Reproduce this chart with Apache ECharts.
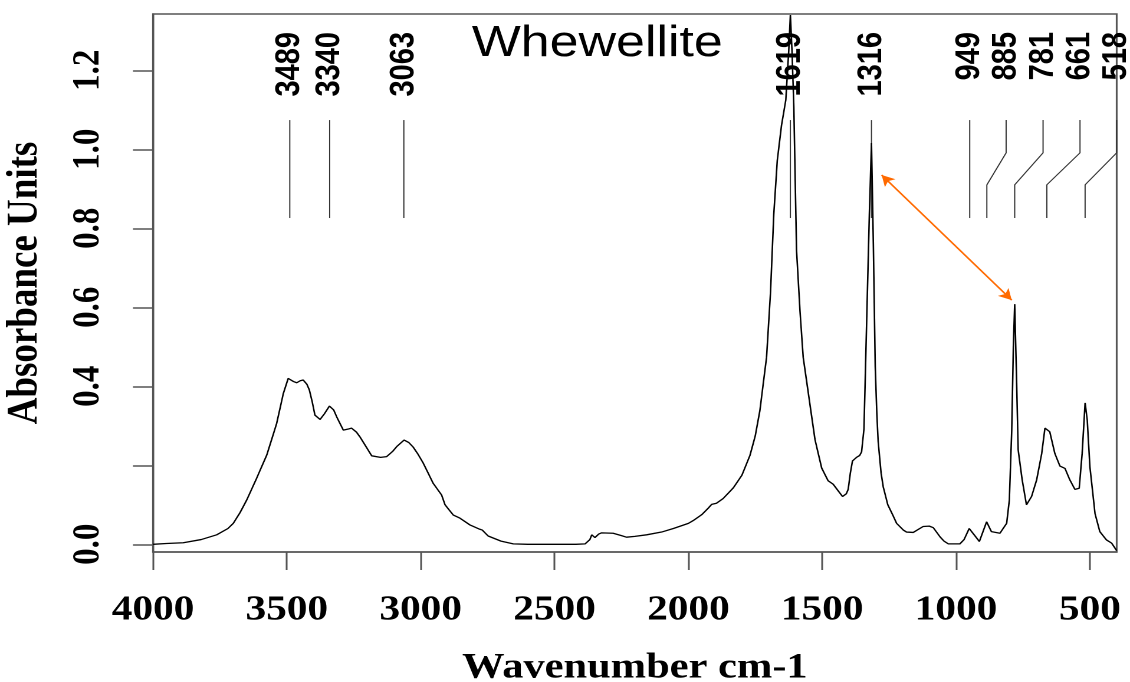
<!DOCTYPE html>
<html>
<head>
<meta charset="utf-8">
<title>Whewellite</title>
<script src="https://cdn.jsdelivr.net/npm/echarts@6/dist/echarts.min.js"></script>
<style>
  html, body { margin: 0; padding: 0; background: #fff; overflow: hidden; }
  /* the original plot is stretched sideways, so draw narrow and widen it */
  #main { width: 958px; height: 682px; transform: scaleX(1.17954); transform-origin: 0 0; }
</style>
</head>
<body>
<div id="main"></div>
<script>
// spectrum (cm-1 / absorbance)
var wavenumbers = [4000, 3950, 3887, 3820, 3762, 3720, 3700, 3675, 3650, 3613, 3575, 3538, 3513, 3495, 3489,
  3475, 3463, 3450, 3439, 3425, 3416, 3405, 3395, 3376, 3360, 3341, 3325, 3314, 3289, 3270, 3258, 3240,
  3227, 3205, 3183, 3150, 3127, 3105, 3090, 3062, 3045, 3028, 3010, 2990, 2953, 2922, 2909, 2895, 2878,
  2853, 2816, 2779, 2770, 2766, 2748, 2700, 2654, 2600, 2500, 2420, 2386, 2368, 2361, 2349, 2335, 2324,
  2281, 2250, 2231, 2200, 2156, 2100, 2056, 2000, 1982, 1950, 1925, 1913, 1895, 1870, 1832, 1800, 1770,
  1750, 1733, 1708, 1693, 1681, 1668, 1652, 1636, 1625, 1619, 1613, 1606, 1596, 1583, 1571, 1552, 1527,
  1502, 1478, 1459, 1440, 1424, 1410, 1403, 1395, 1387, 1372, 1360, 1353, 1344, 1334, 1324, 1316, 1309,
  1302, 1296, 1291, 1280, 1272, 1255, 1235, 1222, 1197, 1185, 1160, 1123, 1100, 1085, 1060, 1045, 1029,
  986, 970, 951, 930, 913, 886, 868, 836, 811, 801, 792, 786, 781, 774, 768, 753, 737, 718, 699, 680,
  668, 660, 650, 631, 612, 593, 575, 556, 540, 529, 518, 510, 500, 481, 463, 438, 419, 400];
var absorbance = [0.000, 0.002, 0.004, 0.012, 0.024, 0.040, 0.053, 0.080, 0.112, 0.167, 0.226, 0.306, 0.382, 0.420, 0.423,
  0.412, 0.409, 0.414, 0.416, 0.405, 0.391, 0.360, 0.327, 0.316, 0.330, 0.350, 0.340, 0.323, 0.289, 0.292, 0.294, 0.284,
  0.272, 0.248, 0.224, 0.220, 0.222, 0.235, 0.247, 0.264, 0.258, 0.246, 0.228, 0.205, 0.154, 0.125, 0.100, 0.088, 0.074,
  0.066, 0.049, 0.038, 0.036, 0.032, 0.021, 0.008, 0.001, 0.000, 0.000, 0.000, 0.001, 0.012, 0.024, 0.017, 0.026, 0.029,
  0.028, 0.022, 0.018, 0.020, 0.024, 0.031, 0.040, 0.053, 0.060, 0.075, 0.092, 0.101, 0.104, 0.116, 0.143, 0.175, 0.225,
  0.275, 0.338, 0.473, 0.640, 0.835, 0.971, 1.061, 1.125, 1.250, 1.340, 1.250, 1.107, 0.745, 0.590, 0.473, 0.383, 0.265,
  0.193, 0.161, 0.152, 0.135, 0.121, 0.128, 0.139, 0.180, 0.211, 0.220, 0.225, 0.234, 0.292, 0.564, 0.835, 1.016, 0.760,
  0.450, 0.330, 0.260, 0.180, 0.145, 0.100, 0.072, 0.053, 0.036, 0.031, 0.030, 0.045, 0.046, 0.042, 0.019, 0.008, 0.001,
  0.001, 0.012, 0.040, 0.022, 0.007, 0.057, 0.032, 0.028, 0.053, 0.112, 0.289, 0.500, 0.608, 0.416, 0.239, 0.163, 0.100, 0.121, 0.163, 0.230,
  0.294, 0.298, 0.285, 0.230, 0.198, 0.192, 0.163, 0.139, 0.142, 0.230, 0.358, 0.315, 0.196, 0.078, 0.032, 0.011, 0.003, -0.016];

// axis ticks and labels
var xTicks = [4000, 3500, 3000, 2500, 2000, 1500, 1000, 500];
var yTicks = [0, 0.2, 0.4, 0.6, 0.8, 1.0, 1.2];
var yLabels = [0, 0.4, 0.6, 0.8, 1.0, 1.2];

// band assignments: peak position and where its label sits
var peakNames = ['3489', '3340', '3063', '1619', '1316', '949', '885', '781', '661', '518'];
var peakWn = [3489, 3340, 3063, 1619, 1316, 949, 885, 781, 661, 518];
var peakLabelWn = [3489, 3340, 3063, 1619, 1316, 949, 813, 675, 537, 400];

// double arrow comparing the 1316 and 781 bands
var arrowFrom = [1278, 0.935];
var arrowTo = [792, 0.618];

var serif = 'Liberation Serif, Times New Roman, serif';
var sans = 'Liberation Sans, Arial, sans-serif';
var axisGray = '#555';

var spectrum = wavenumbers.map(function (w, i) { return [w, absorbance[i]]; });

// leader line levels (absorbance units)
var lineTop = 1.074, kinkTop = 0.991, kinkLow = 0.910, lineLow = 0.826;
var leaderSeries = peakWn.map(function (w, i) {
  var lw = peakLabelWn[i];
  var pts = (lw === w)
    ? [[lw, lineTop], [w, lineLow]]
    : [[lw, lineTop], [lw, kinkTop], [w, kinkLow], [w, lineLow]];
  return {
    type: 'line', data: pts, showSymbol: false, silent: true, clip: false,
    lineStyle: { color: '#333', width: 1 }, z: 3
  };
});

var labelSeries = {
  type: 'scatter', silent: true, symbolSize: 1,
  itemStyle: { color: 'transparent', opacity: 1 },
  data: peakNames.map(function (n, i) { return { value: [peakLabelWn[i], 1.297], name: n }; }),
  label: {
    show: true, position: 'inside', rotate: 90, align: 'right', verticalAlign: 'middle',
    formatter: function (p) { return p.name; },
    fontFamily: sans, fontWeight: 'bold', fontSize: 29, color: '#000',
    opacity: 1, textBorderWidth: 0
  },
  z: 5
};

var chart = echarts.init(document.getElementById('main'), null, { renderer: 'canvas', devicePixelRatio: 2 });
chart.setOption({
  animation: false,
  backgroundColor: '#fff',
  title: {
    text: 'Whewellite', left: 400, top: 22, padding: 0,
    textStyle: { fontFamily: sans, fontWeight: 'normal', fontSize: 44, color: '#000' }
  },
  grid: {
    left: 129.7, right: 11.3, top: 14, bottom: 130,
    show: true, borderColor: axisGray, borderWidth: 1.5, outerBoundsMode: 'none'
  },
  xAxis: {
    type: 'value', inverse: true, min: 400, max: 4000,
    name: 'Wavenumber cm-1', nameLocation: 'middle', nameGap: 98,
    nameTextStyle: { fontFamily: serif, fontWeight: 'bold', fontSize: 36, color: '#000' },
    axisLine: { onZero: false, lineStyle: { color: axisGray, width: 1.5 } },
    axisTick: { show: true, length: 18, customValues: xTicks, lineStyle: { color: axisGray, width: 1.5 } },
    axisLabel: {
      customValues: xTicks, margin: 41,
      formatter: function (v) { return String(v); },
      fontFamily: serif, fontWeight: 'bold', fontSize: 35, color: '#000'
    },
    splitLine: { show: false }
  },
  yAxis: {
    type: 'value', min: -0.0195, max: 1.3425,
    name: 'Absorbance Units', nameLocation: 'middle', nameGap: 90,
    nameTextStyle: { fontFamily: serif, fontWeight: 'bold', fontSize: 37, color: '#000' },
    axisLine: { show: true, lineStyle: { color: axisGray, width: 1.5 } },
    axisTick: { show: true, length: 17, customValues: yTicks, lineStyle: { color: axisGray, width: 1.5 } },
    axisLabel: {
      customValues: yLabels, rotate: 90, margin: 38,
      formatter: function (v) { return v.toFixed(1); },
      fontFamily: serif, fontWeight: 'bold', fontSize: 33, color: '#000'
    },
    splitLine: { show: false }
  },
  series: [{
    type: 'line', data: spectrum, showSymbol: false, silent: true,
    lineStyle: { color: '#000', width: 1.3 }, z: 4,
    markLine: {
      silent: true, symbol: ['arrow', 'arrow'], symbolSize: [9, 11],
      label: { show: false },
      lineStyle: { color: '#ff6a00', width: 1.5, type: 'solid' },
      data: [[{ coord: arrowFrom }, { coord: arrowTo }]]
    }
  }].concat(leaderSeries, [labelSeries])
});
</script>
</body>
</html>
